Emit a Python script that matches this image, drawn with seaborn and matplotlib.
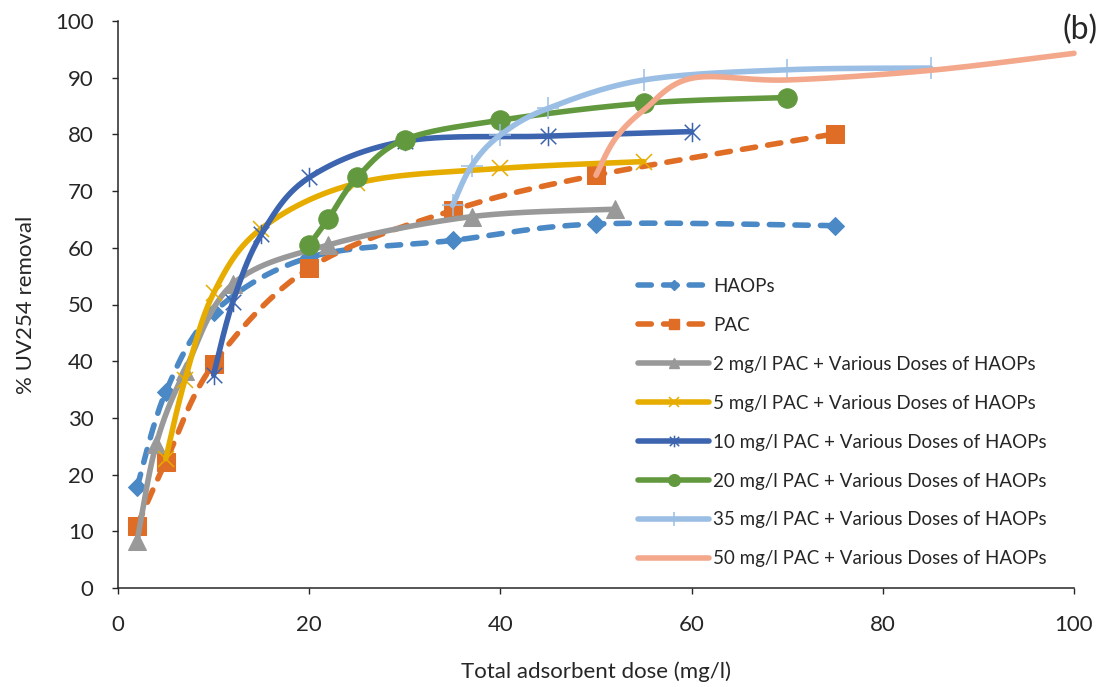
import numpy as np
import pandas as pd
import seaborn as sns
import matplotlib.pyplot as plt
from matplotlib.lines import Line2D
from matplotlib.path import Path

sns.set_style("ticks")
plt.rcParams['font.family'] = ['Lato', 'DejaVu Sans']

# data (total adsorbent dose mg/l, % UV254 removal)
haops_dose = [2, 5, 10, 20, 35, 50, 75]
haops = [17.8, 34.6, 48.6, 58.3, 61.3, 64.2, 63.9]
pac_dose = [2, 5, 10, 20, 35, 50, 75]
pac = [11.0, 22.3, 39.5, 56.4, 66.6, 72.8, 80.1]
pac2_dose = [2, 4, 7, 12, 22, 37, 52]
pac2 = [8.3, 25.4, 38.3, 53.6, 60.5, 65.5, 66.8]
pac5_dose = [5, 7, 10, 15, 25, 40, 55]
pac5 = [22.8, 36.7, 52.0, 63.4, 71.4, 74.0, 75.2]
pac10_dose = [10, 12, 15, 20, 30, 45, 60]
pac10 = [37.6, 50.4, 62.4, 72.4, 78.8, 79.7, 80.5]
pac20_dose = [20, 22, 25, 30, 40, 55, 70]
pac20 = [60.5, 65.1, 72.4, 79.1, 82.5, 85.5, 86.5]
pac35_dose = [35, 37, 40, 45, 55, 70, 85]
pac35 = [67.5, 74.5, 79.9, 84.6, 89.6, 91.4, 91.7]
pac50_dose = [50, 52, 55, 60, 70, 85, 100]
pac50 = [72.8, 79.2, 84.3, 89.9, 89.6, 91.3, 94.3]

labels = ['HAOPs', 'PAC',
          '2 mg/l PAC + Various Doses of HAOPs',
          '5 mg/l PAC + Various Doses of HAOPs',
          '10 mg/l PAC + Various Doses of HAOPs',
          '20 mg/l PAC + Various Doses of HAOPs',
          '35 mg/l PAC + Various Doses of HAOPs',
          '50 mg/l PAC + Various Doses of HAOPs']

# excel style asterisk marker
star = Path([(-1, -1), (1, 1), (-1, 1), (1, -1), (0, -1.25), (0, 1.25)],
            [Path.MOVETO, Path.LINETO, Path.MOVETO, Path.LINETO, Path.MOVETO, Path.LINETO])

NSEG = 30


def smooth(x, y):
    # excel like smoothed line (catmull-rom bezier)
    p = np.column_stack([x, y]).astype(float)
    p = np.vstack([p[0], p, p[-1]])
    t = np.linspace(0, 1, NSEG + 1)[:-1][:, None]
    out = []
    for i in range(1, len(p) - 2):
        p0, p1, p2, p3 = p[i - 1], p[i], p[i + 1], p[i + 2]
        c1 = p1 + (p2 - p0) / 6
        c2 = p2 - (p3 - p1) / 6
        out.append((1 - t) ** 3 * p1 + 3 * (1 - t) ** 2 * t * c1 + 3 * (1 - t) * t ** 2 * c2 + t ** 3 * p2)
    out.append(p[-2][None, :])
    s = np.vstack(out)
    return pd.DataFrame({'dose': s[:, 0], 'removal': s[:, 1]})


dash = (0, (2.4, 2.2))
series = [
    (haops_dose, haops, '#4A89C5', dash, dict(marker='D', ms=9)),
    (pac_dose, pac, '#DF6D26', dash, dict(marker='s', ms=13)),
    (pac2_dose, pac2, '#999999', '-', dict(marker='^', ms=13)),
    (pac5_dose, pac5, '#E6AD00', '-', dict(marker='x', ms=12, mew=1.1)),
    (pac10_dose, pac10, '#3D64AF', '-', dict(marker=star, ms=14, mew=1.1)),
    (pac20_dose, pac20, '#62993E', '-', dict(marker='o', ms=14)),
    (pac35_dose, pac35, '#9BBEE4', '-', dict(marker='+', ms=16, mew=1.1)),
    (pac50_dose, pac50, '#F3A88B', '-', dict(marker='None')),
]

fig = plt.figure(figsize=(11.02, 6.87), dpi=100)
ax = fig.add_axes([118 / 1102, 99 / 687, 956 / 1102, 567 / 687])

handles = []
for k, (xd, yd, col, ls, mk) in enumerate(series):
    df = smooth(xd, yd)
    sns.lineplot(data=df, x='dose', y='removal', sort=False, estimator=None, ax=ax,
                 color=col, lw=4, linestyle=ls, dash_capstyle='round', solid_capstyle='round',
                 markevery=[i * NSEG for i in range(len(xd))], zorder=3 + k, clip_on=False,
                 mec=col, mfc=col, **mk)
    hk = dict(mk)
    if 'ms' in hk:
        hk['ms'] = hk['ms'] * 0.6
    handles.append(Line2D([], [], color=col, lw=4, linestyle=ls, dash_capstyle='round',
                          solid_capstyle='round', mec=col, mfc=col, **hk))

ax.set_xlim(0, 100)
ax.set_ylim(0, 100)
ax.set_xticks(range(0, 101, 20))
ax.set_yticks(range(0, 101, 10))
ax.tick_params(axis='x', labelsize=16, length=4.5, width=1, color='#262626', pad=15)
ax.tick_params(axis='y', labelsize=16, length=4.5, width=1, color='#262626', pad=13)
sns.despine(ax=ax)
for s in ['left', 'bottom']:
    ax.spines[s].set_color('#262626')
    ax.spines[s].set_linewidth(1.1)
ax.set_xlabel('Total adsorbent dose (mg/l)', fontsize=16, labelpad=19)
ax.set_ylabel('% UV254 removal', fontsize=16, labelpad=14)

ax.legend(handles, labels, loc='upper left', bbox_to_anchor=(621 / 1102, 1 - 261 / 687),
          bbox_transform=fig.transFigure, frameon=False, fontsize=13.5,
          handlelength=3.8, handletextpad=0.2, labelspacing=1.17, numpoints=1)

fig.text(1098 / 1102, 1 - 30 / 687, '(b)', fontsize=23, ha='right', va='center')

fig.savefig('out.png', dpi=100)
